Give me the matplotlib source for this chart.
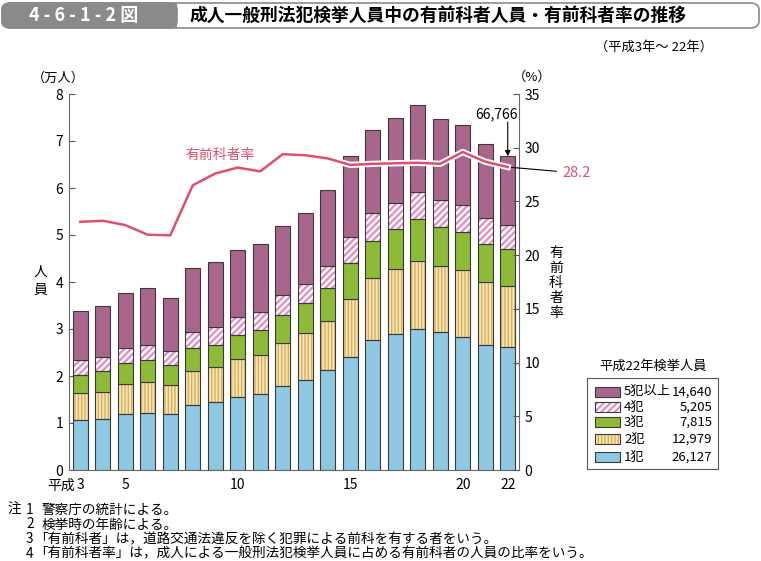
import matplotlib
matplotlib.use('Agg')
import matplotlib.pyplot as plt
from matplotlib.patches import FancyBboxPatch, Rectangle
import matplotlib.patheffects as pe
import numpy as np

plt.rcParams['font.family'] = ['Noto Sans CJK JP', 'DejaVu Sans']

# 平成3年～22年
years = list(range(3, 23))
# 検挙人員（人）
ones = [10600, 10800, 11900, 12100, 11900, 13800, 14400, 15500, 16100, 17800,
        19100, 21200, 24000, 27700, 28900, 30100, 29300, 28400, 26700, 26127]
twos = [5700, 5900, 6500, 6700, 6100, 7300, 7500, 8100, 8300, 9300,
        10000, 10600, 12300, 13100, 13800, 14400, 14100, 14100, 13400, 12979]
threes = [4000, 4400, 4300, 4600, 4300, 4800, 4800, 5200, 5300, 5900,
          6400, 6900, 7800, 8000, 8500, 8800, 8300, 8200, 8000, 7815]
fours = [3000, 3000, 3200, 3200, 3100, 3400, 3700, 3700, 4000, 4200,
         4000, 4700, 5400, 5800, 5700, 5900, 5700, 5600, 5500, 5205]
fives = [10500, 10900, 11700, 12100, 11100, 13600, 13900, 14300, 14400, 14800,
         15100, 16200, 17300, 17700, 17900, 18400, 17200, 17100, 15800, 14640]
# 有前科者率（%）
rate = [23.1, 23.2, 22.8, 21.9, 21.85, 26.5, 27.6, 28.15, 27.8, 29.4,
        29.3, 29.0, 28.4, 28.5, 28.55, 28.6, 28.5, 29.6, 28.7, 28.2]

series_names = ['1犯', '2犯', '3犯', '4犯', '5犯以上']
series = [ones, twos, threes, fours, fives]
face = ['#8ec8e2', '#f6e6b4', '#8dbb38', 'white', '#a8668c']
hatch = [None, '|||||', None, '/////', None]
hatch_col = [None, '#d9ae5c', None, '#e48cc0', None]
tick_pos = [0, 2, 7, 12, 17, 19]
tick_lab = ['3', '5', '10', '15', '20', '22']
red = '#e0506e'
edge = '#3a3a3a'

W, H = 761, 561
fig = plt.figure(figsize=(W / 100, H / 100), dpi=100)

def fx(px):
    return px / W

def fy(py):
    return 1 - py / H

ax = fig.add_axes([fx(69), fy(470), fx(519) - fx(69), fy(94) - fy(470)])
x = np.arange(len(years))
bottom = np.zeros(len(years))
for vals, fc, h, hc in zip(series, face, hatch, hatch_col):
    v = np.array(vals) / 10000
    if h:
        plt.rcParams['hatch.linewidth'] = 1.6 if h.startswith('/') else 1.0
        ax.bar(x, v, 0.65, bottom=bottom, color=fc, edgecolor=hc, hatch=h,
               linewidth=0, zorder=2)
        ax.bar(x, v, 0.65, bottom=bottom, facecolor='none', edgecolor=edge,
               linewidth=0.8, zorder=3)
    else:
        ax.bar(x, v, 0.65, bottom=bottom, color=fc, edgecolor=edge,
               linewidth=0.8, zorder=3)
    bottom += v

ax.set_xlim(-0.5, 19.5)
ax.set_ylim(0, 8)
ax.set_yticks(range(0, 9))
ax.set_xticks(tick_pos)
ax.set_xticklabels(tick_lab)
ax.tick_params(axis='x', length=0, labelsize=10, pad=6)
ax.tick_params(axis='y', direction='in', length=4, labelsize=10, pad=4,
               color='#555555')
for s in ['top', 'right']:
    ax.spines[s].set_visible(False)
for s in ['left', 'bottom']:
    ax.spines[s].set_color('#666666')
ax.annotate('平成', xy=(0, 0), xytext=(-4, -6), textcoords='offset points',
            ha='right', va='top', fontsize=10, annotation_clip=False)

ax2 = ax.twinx()
ax2.set_ylim(0, 35)
ax2.set_yticks(range(0, 36, 5))
ax2.tick_params(axis='y', direction='in', length=4, labelsize=10, pad=4,
                color='#555555')
for s in ['top', 'left', 'bottom']:
    ax2.spines[s].set_visible(False)
ax2.spines['right'].set_color('#666666')
ax2.plot(x, rate, color=red, lw=1.8, zorder=5,
         path_effects=[pe.Stroke(linewidth=4.5, foreground='white'), pe.Normal()])
ax2.text(6.2, 29.3, '有前科者率', color=red, fontsize=10, ha='center', va='center')

total = sum(s[-1] for s in series)
ax.annotate('', xy=(19, total / 10000), xytext=(19, 7.40),
            arrowprops=dict(arrowstyle='-|>', color='black', lw=0.8,
                            mutation_scale=8, shrinkA=0, shrinkB=0))
ax.text(18.5, 7.56, f'{total:,}', ha='center', va='center', fontsize=10)
ax2.annotate(f'{rate[-1]}', xy=(19, rate[-1]), xytext=(fx(562), fy(173)),
             textcoords='figure fraction', ha='left', va='center', color=red,
             fontsize=10.5, annotation_clip=False,
             arrowprops=dict(arrowstyle='-', color='black', lw=0.8,
                             shrinkA=2, shrinkB=0))

# axis titles
fig.text(fx(58), fy(78), '（万人）', ha='center', va='center', fontsize=9.5)
fig.text(fx(532), fy(77), '（%）', ha='center', va='center', fontsize=9.5)
fig.text(fx(40), fy(281), '人\n員', ha='center', va='center', fontsize=10,
         linespacing=1.4)
fig.text(fx(556), fy(283), '有\n前\n科\n者\n率', ha='center', va='center',
         fontsize=10, linespacing=1.1)
fig.text(fx(713), fy(47), '（平成3年～ 22年）', ha='right', va='center', fontsize=9.5)

# header
fig.patches.append(FancyBboxPatch((fx(2), fy(28)), fx(757), fy(3) - fy(28),
                                  boxstyle='round,pad=0,rounding_size=0.012',
                                  transform=fig.transFigure, facecolor='white',
                                  edgecolor='#8a8a8a', linewidth=1.2))
fig.patches.append(FancyBboxPatch((fx(2), fy(28)), fx(175), fy(3) - fy(28),
                                  boxstyle='round,pad=0,rounding_size=0.012',
                                  transform=fig.transFigure, facecolor='#8a8a8a',
                                  edgecolor='#8a8a8a', linewidth=1.2))
fig.patches.append(Rectangle((fx(150), fy(28)), fx(27), fy(3) - fy(28),
                             transform=fig.transFigure, facecolor='#8a8a8a',
                             edgecolor='none'))
fig.text(fx(84), fy(15.5), '4 - 6 - 1 - 2 図', color='white', ha='center',
         va='center', fontsize=13, fontweight='bold')
fig.text(fx(190), fy(15.5), '成人一般刑法犯検挙人員中の有前科者人員・有前科者率の推移',
         ha='left', va='center', fontsize=12.8, fontweight='bold')

# legend
fig.text(fx(653), fy(366), '平成22年検挙人員', ha='center', va='center', fontsize=9.5)
fig.patches.append(Rectangle((fx(587), fy(469)), fx(131), fy(378) - fy(469),
                             transform=fig.transFigure, facecolor='white',
                             edgecolor='#555555', linewidth=0.8))
rows = [391.7, 407.3, 422.3, 439.3, 457.3]
for i, k in enumerate([4, 3, 2, 1, 0]):
    yy = rows[i]
    if hatch[k]:
        plt.rcParams['hatch.linewidth'] = 1.6 if hatch[k].startswith('/') else 1.0
        fig.patches.append(Rectangle((fx(595), fy(yy + 5)), fx(25), fy(yy - 5) - fy(yy + 5),
                                     transform=fig.transFigure, facecolor=face[k],
                                     edgecolor=hatch_col[k], hatch=hatch[k],
                                     linewidth=0))
        fig.patches.append(Rectangle((fx(595), fy(yy + 5)), fx(25), fy(yy - 5) - fy(yy + 5),
                                     transform=fig.transFigure, facecolor='none',
                                     edgecolor=edge, linewidth=0.8))
    else:
        fig.patches.append(Rectangle((fx(595), fy(yy + 5)), fx(25), fy(yy - 5) - fy(yy + 5),
                                     transform=fig.transFigure, facecolor=face[k],
                                     edgecolor=edge, linewidth=0.8))
    fig.text(fx(624), fy(yy), series_names[k], ha='left', va='center', fontsize=9.5)
    fig.text(fx(712), fy(yy), f'{series[k][-1]:,}', ha='right', va='center',
             fontsize=9.5)

# notes
notes = ['警察庁の統計による。',
         '検挙時の年齢による。',
         '「有前科者」は，道路交通法違反を除く犯罪による前科を有する者をいう。',
         '「有前科者率」は，成人による一般刑法犯検挙人員に占める有前科者の人員の比率をいう。']
note_y = [510, 524.5, 539, 553.5]
fig.text(fx(7), fy(note_y[0]), '注', ha='left', va='center', fontsize=9.8)
for i, (t, yy) in enumerate(zip(notes, note_y)):
    fig.text(fx(26), fy(yy), str(i + 1), ha='left', va='center', fontsize=9.8)
    xs = 34 if t.startswith('「') else 42
    fig.text(fx(xs), fy(yy), t, ha='left', va='center', fontsize=9.8)

fig.savefig('out.png', dpi=100)
